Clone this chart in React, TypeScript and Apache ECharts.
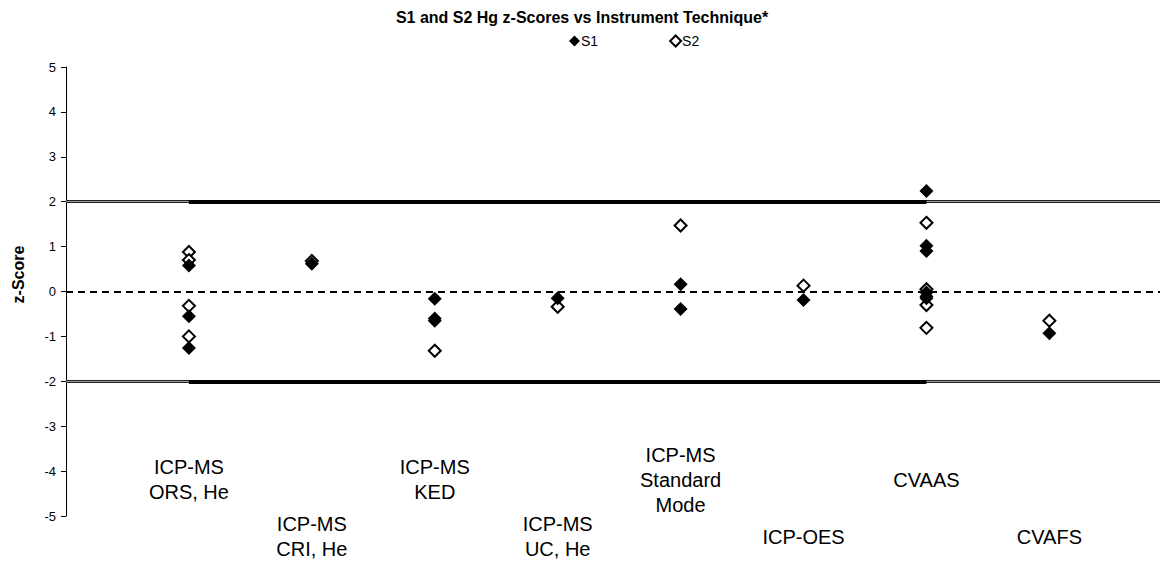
import React, { useEffect, useRef } from "react";
import * as echarts from "echarts";

const title = "S1 and S2 Hg z-Scores vs Instrument Technique*";
const categories = [
  "ICP-MS\nORS, He",
  "ICP-MS\nCRI, He",
  "ICP-MS\nKED",
  "ICP-MS\nUC, He",
  "ICP-MS\nStandard\nMode",
  "ICP-OES",
  "CVAAS",
  "CVAFS",
];
const s1Values: number[][] = [
  [0.58, -0.55, -1.26],
  [0.62],
  [-0.16, -0.6, -0.65],
  [-0.15],
  [0.16, -0.39],
  [-0.19],
  [2.24, 1.02, 0.9, -0.02, -0.11, -0.15],
  [-0.93],
];
const s2Values: number[][] = [
  [0.88, 0.7, -0.32, -1.0],
  [0.68],
  [-1.32],
  [-0.34],
  [1.47],
  [0.13],
  [1.53, 0.05, -0.3, -0.81],
  [-0.65],
];
const limits = [2, -2];
const targetZ = 0;
const yTicks = [-5, 5, 1];
const xMax = 8.9;
const limitStart = 1;
const limitEnd = 7;
const labelRowZ = [-4.19, -5.46];

const FONT = "'Liberation Sans', Arial, sans-serif";

function toPoints(vals: number[][]) {
  const pts: number[][] = [];
  vals.forEach((arr, i) => arr.forEach((v) => pts.push([i + 1, v])));
  return pts;
}

export default function App() {
  const ref = useRef<HTMLDivElement>(null);
  useEffect(() => {
    if (!ref.current) return;
    const chart = echarts.init(ref.current, undefined, { renderer: "svg" });
    const labelData = categories.map((c, i) => ({
      name: c,
      value: [i + 1, labelRowZ[i % 2]],
    }));
    chart.setOption({
      animation: false,
      title: {
        text: title,
        left: "center",
        top: 4,
        textStyle: { fontFamily: FONT, fontSize: 16, fontWeight: "bold", color: "#000" },
      },
      legend: {
        data: ["S1", "S2"],
        left: 564,
        top: 29,
        itemWidth: 11,
        itemHeight: 11,
        itemGap: 71,
        icon: "diamond",
        textStyle: { fontFamily: FONT, fontSize: 14, color: "#000", padding: [0, 0, 0, -4] },
      },
      grid: { left: 66, right: 4, top: 67, bottom: 45, containLabel: false },
      xAxis: {
        type: "value",
        min: 0,
        max: xMax,
        show: false,
      },
      yAxis: {
        type: "value",
        min: yTicks[0],
        max: yTicks[1],
        interval: yTicks[2],
        name: "z-Score",
        nameLocation: "middle",
        nameGap: 40,
        nameTextStyle: {
          fontFamily: FONT,
          fontSize: 16,
          fontWeight: "bold",
          color: "#000",
          padding: [0, 0, 0, 34],
        },
        axisLine: { show: true, lineStyle: { color: "#000", width: 1 } },
        axisTick: { show: true, length: 5, lineStyle: { color: "#000" } },
        axisLabel: { fontFamily: FONT, fontSize: 13, color: "#000", margin: 10 },
        splitLine: { show: false },
      },
      series: [
        {
          type: "line",
          data: [],
          silent: true,
          markLine: {
            silent: true,
            symbol: "none",
            label: { show: false },
            lineStyle: { color: "#222", width: 3, type: "solid", opacity: 1 },
            data: limits.map((v) => ({ yAxis: v })),
          },
        },
        {
          type: "line",
          data: [],
          silent: true,
          markLine: {
            silent: true,
            symbol: "none",
            label: { show: false },
            lineStyle: { color: "#9a9a9a", width: 1, type: "solid", opacity: 1 },
            data: limits.map((v) => ({ yAxis: v })),
          },
        },
        {
          type: "line",
          data: [],
          silent: true,
          markLine: {
            silent: true,
            symbol: "none",
            label: { show: false },
            data: [
              ...limits.map((v) => [
                { coord: [limitStart, v], lineStyle: { color: "#000", width: 4, type: "solid", opacity: 1 } },
                { coord: [limitEnd, v] },
              ]),
              { yAxis: targetZ, lineStyle: { color: "#000", width: 2, type: [7, 5], opacity: 1 } },
            ],
          },
        },
        {
          name: "S2",
          type: "scatter",
          symbol: "diamond",
          symbolSize: 12,
          itemStyle: { color: "#fff", borderColor: "#000", borderWidth: 2, opacity: 1 },
          data: toPoints(s2Values),
        },
        {
          name: "S1",
          type: "scatter",
          symbol: "diamond",
          symbolSize: 14,
          itemStyle: { color: "#000", opacity: 1 },
          data: toPoints(s1Values),
        },
        {
          type: "scatter",
          clip: false,
          silent: true,
          symbolSize: 1,
          itemStyle: { color: "rgba(0,0,0,0)", opacity: 1 },
          label: {
            show: true,
            position: "inside",
            formatter: (p: any) => p.name,
            fontFamily: FONT,
            fontSize: 20,
            lineHeight: 25,
            color: "#000",
            opacity: 1,
            align: "center",
            verticalAlign: "middle",
          },
          data: labelData,
        },
      ],
    });
    return () => chart.dispose();
  }, []);
  return (
    <div
      ref={ref}
      style={{ position: "absolute", left: 0, top: 0, width: 1164, height: 561, background: "#fff" }}
    />
  );
}
